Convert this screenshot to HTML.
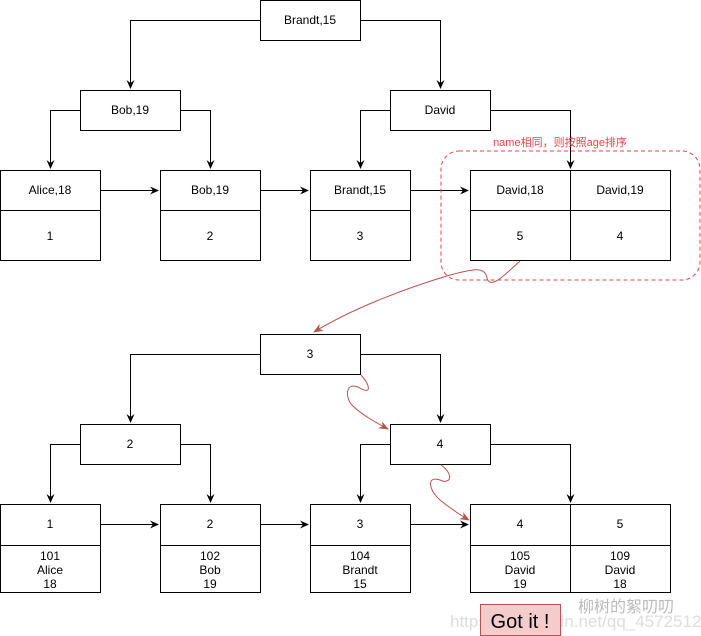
<!DOCTYPE html><html><head><style>body{margin:0;background:#fff}svg{display:block}text{font-family:"Liberation Sans",Arial,sans-serif;font-size:12px;fill:#000}</style></head><body>
<svg width="701" height="636" viewBox="0 0 701 636" xmlns="http://www.w3.org/2000/svg">
<defs><marker id="a" markerWidth="10" markerHeight="10" refX="8" refY="5" orient="auto" markerUnits="userSpaceOnUse"><path d="M0,1 L9,5 L0,9 L3,5z" fill="#000"/></marker>
<marker id="r" markerWidth="12" markerHeight="12" refX="9" refY="5" orient="auto" markerUnits="userSpaceOnUse"><path d="M0,1 L10,5 L0,9 L3,5z" fill="#b85450"/></marker></defs>
<g fill="none" stroke="#000" stroke-width="1">
<rect x="260.5" y="0.5" width="100" height="40"/>
<rect x="80.5" y="90.5" width="100" height="40"/>
<rect x="390.5" y="90.5" width="100" height="40"/>
<rect x="0.5" y="170.5" width="100" height="90"/><line x1="0" y1="210.5" x2="100" y2="210.5"/>
<rect x="160.5" y="170.5" width="100" height="90"/><line x1="160" y1="210.5" x2="260" y2="210.5"/>
<rect x="310.5" y="170.5" width="100" height="90"/><line x1="310" y1="210.5" x2="410" y2="210.5"/>
<rect x="470.5" y="170.5" width="200" height="90"/><line x1="470" y1="210.5" x2="670" y2="210.5"/><line x1="570.5" y1="170" x2="570.5" y2="260"/>
<path d="M260,20.5H130.5V88" marker-end="url(#a)"/>
<path d="M360,20.5H440.5V88" marker-end="url(#a)"/>
<path d="M80,110.5H50.5V168" marker-end="url(#a)"/>
<path d="M180,110.5H210.5V168" marker-end="url(#a)"/>
<path d="M390,110.5H360.5V168" marker-end="url(#a)"/>
<path d="M490,110.5H570.5V168" marker-end="url(#a)"/>
<path d="M100,190.5H158" marker-end="url(#a)"/>
<path d="M260,190.5H308" marker-end="url(#a)"/>
<path d="M410,190.5H468" marker-end="url(#a)"/>

<rect x="260.5" y="334.5" width="100" height="40"/>
<rect x="80.5" y="424.5" width="100" height="40"/>
<rect x="390.5" y="424.5" width="100" height="40"/>
<rect x="0.5" y="504.5" width="100" height="88"/><line x1="0" y1="545.5" x2="100" y2="545.5"/>
<rect x="160.5" y="504.5" width="100" height="88"/><line x1="160" y1="545.5" x2="260" y2="545.5"/>
<rect x="310.5" y="504.5" width="100" height="88"/><line x1="310" y1="545.5" x2="410" y2="545.5"/>
<rect x="470.5" y="504.5" width="200" height="88"/><line x1="470" y1="545.5" x2="670" y2="545.5"/><line x1="570.5" y1="504" x2="570.5" y2="592"/>
<path d="M260,354.5H130.5V422" marker-end="url(#a)"/>
<path d="M360,354.5H440.5V422" marker-end="url(#a)"/>
<path d="M80,444.5H50.5V502" marker-end="url(#a)"/>
<path d="M180,444.5H210.5V502" marker-end="url(#a)"/>
<path d="M390,444.5H360.5V502" marker-end="url(#a)"/>
<path d="M490,444.5H570.5V502" marker-end="url(#a)"/>
<path d="M100,524.5H158" marker-end="url(#a)"/>
<path d="M260,524.5H308" marker-end="url(#a)"/>
<path d="M410,524.5H468" marker-end="url(#a)"/>
</g>
<rect x="441" y="151" width="259" height="129" rx="18" fill="none" stroke="#e0474c" stroke-dasharray="4,3"/>
<text x="560" y="146" text-anchor="middle" style="fill:#e0474c;font-size:11px;font-family:'Liberation Sans','Noto Sans CJK SC',sans-serif">name相同，则按照age排序</text>
<g fill="none" stroke="#b85450" stroke-width="1">
<path d="M520,261 C505,275 490,290 487,278 C485,265 470,270 450,275 C400,290 350,310 314,332" marker-end="url(#r)"/>
<path d="M361,375 C370,385 372,395 360,388 C345,380 345,398 352,405 C362,415 375,422 388,429" marker-end="url(#r)"/>
<path d="M441,465 C455,475 450,485 440,480 C425,475 430,492 440,500 C450,508 460,515 469,520" marker-end="url(#r)"/>
</g>
<g text-anchor="middle">
<text x="310" y="24">Brandt,15</text><text x="130" y="114">Bob,19</text><text x="440" y="114">David</text>
<text x="50" y="194">Alice,18</text><text x="210" y="194">Bob,19</text><text x="360" y="194">Brandt,15</text><text x="520" y="194">David,18</text><text x="620" y="194">David,19</text>
<text x="50" y="240">1</text><text x="210" y="240">2</text><text x="360" y="240">3</text><text x="520" y="240">5</text><text x="620" y="240">4</text>
<text x="310" y="358">3</text><text x="130" y="448">2</text><text x="440" y="448">4</text>
<text x="50" y="528">1</text><text x="210" y="528">2</text><text x="360" y="528">3</text><text x="520" y="528">4</text><text x="620" y="528">5</text>
<text x="50" y="560">101</text><text x="50" y="574">Alice</text><text x="50" y="588">18</text>
<text x="210" y="560">102</text><text x="210" y="574">Bob</text><text x="210" y="588">19</text>
<text x="360" y="560">104</text><text x="360" y="574">Brandt</text><text x="360" y="588">15</text>
<text x="520" y="560">105</text><text x="520" y="574">David</text><text x="520" y="588">19</text>
<text x="620" y="560">109</text><text x="620" y="574">David</text><text x="620" y="588">18</text>
</g>
<text x="450" y="627" style="fill:#ddd;font-size:17px">https://blog.csdn.net/qq_45725126</text>
<text x="578" y="612" style="fill:#bbb;font-size:16px;font-family:'Liberation Sans','Noto Sans CJK SC',sans-serif">柳树的絮叨叨</text>
<rect x="480.5" y="604.5" width="80" height="31" fill="#f4cccc" stroke="#b85450"/>
<text x="520" y="628" text-anchor="middle" style="font-size:20px">Got it !</text>
</svg></body></html>
